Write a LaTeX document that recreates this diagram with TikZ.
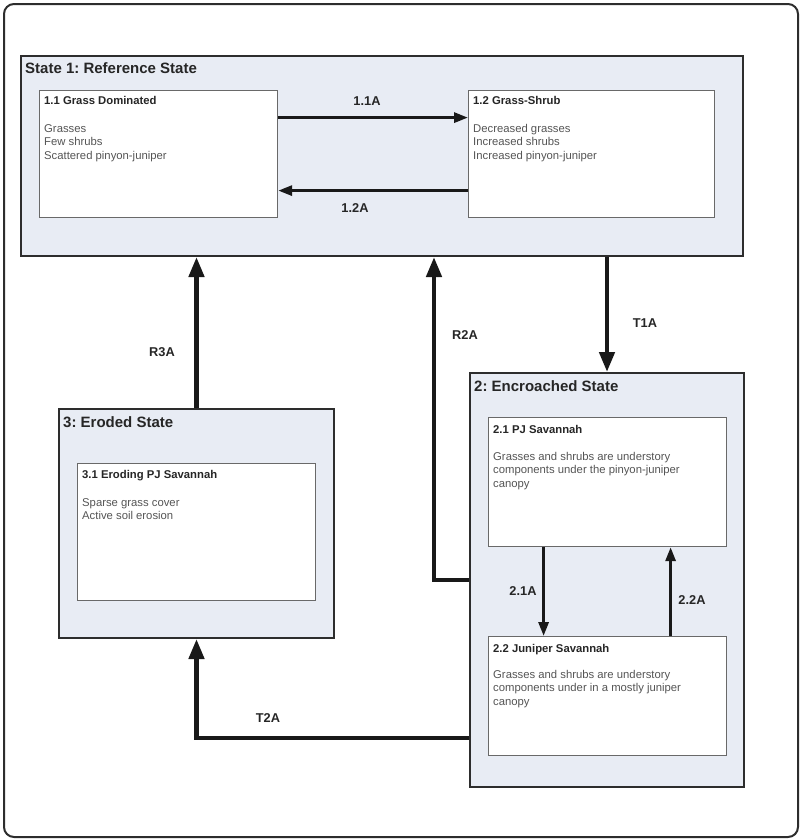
\documentclass[tikz,border=0pt]{standalone}
\usepackage{fontspec}
\setmainfont{Liberation Sans}
\frenchspacing
\usetikzlibrary{positioning,calc,arrows.meta}
\definecolor{statefill}{RGB}{232,236,244}
\definecolor{frameline}{RGB}{45,45,45}
\definecolor{boxline}{RGB}{105,105,105}
\definecolor{bodytext}{RGB}{85,85,85}
\tikzset{>={Triangle[length=20pt,width=15pt]},
  statebox/.style={draw=frameline,fill=statefill,line width=2pt,inner sep=0,anchor=north west},
  phasebox/.style={draw=boxline,fill=white,line width=1.2pt,inner sep=0,anchor=north west},
  statetitle/.style={font=\fontsize{15}{18}\selectfont\bfseries,text=black!85,inner sep=0,anchor=base west},
  phasetitle/.style={font=\fontsize{11.3}{13}\selectfont\bfseries,text=black!85,inner sep=0,anchor=base west},
  phasebody/.style={font=\fontsize{11.3}{13.5}\selectfont,text=bodytext,inner sep=0,anchor=north west,align=left},
  pathlabel/.style={font=\fontsize{12.8}{15}\selectfont\bfseries,text=black!85,inner sep=0},
  bigarrow/.style={->,line width=4.5pt,draw=black!90},
  smallarrow/.style={-{Triangle[length=14pt,width=10pt]},line width=3pt,draw=black!90}
}

\begin{document}
\begin{tikzpicture}[x=1pt,y=-1pt]
\useasboundingbox (0,0) rectangle (800,839);
\node[draw=frameline,line width=2pt,rounded corners=10pt,minimum width=794pt,minimum height=833pt,inner sep=0,anchor=north west] (frame) at (3,3) {};

% states
\node[statebox,minimum width=722pt,minimum height=200pt] (s1) at (20,55) {};
\node[statebox,minimum width=274pt,minimum height=414pt] (s2) at (469,372) {};
\node[statebox,minimum width=275pt,minimum height=229pt] (s3) at (58,408) {};
\node[statetitle] (s1title) at (25,73) {State 1: Reference State};
\node[statetitle] (s2title) at (474,391) {2: Encroached State};
\node[statetitle] (s3title) at (63,427) {3: Eroded State};

% community phases
\node[phasebox,minimum width=238pt,minimum height=127pt] (p11) at (39,90) {};
\node[phasebox,minimum width=246pt,minimum height=127pt] (p12) at (468,90) {};
\node[phasebox,minimum width=238pt,minimum height=129pt] (p21) at (488,417) {};
\node[phasebox,minimum width=238pt,minimum height=119pt] (p22) at (488,636) {};
\node[phasebox,minimum width=238pt,minimum height=137pt] (p31) at (77,463) {};

\node[phasetitle] (p11title) at (44,104) {1.1 Grass Dominated};
\node[phasebody] (p11body) at (44,124) {Grasses\\Few shrubs\\Scattered pinyon-juniper};
\node[phasetitle] (p12title) at (473,104) {1.2 Grass-Shrub};
\node[phasebody] (p12body) at (473,124) {Decreased grasses\\Increased shrubs\\Increased pinyon-juniper};
\node[phasetitle] (p21title) at (493,433) {2.1 PJ Savannah};
\node[phasebody] (p21body) at (493,452) {Grasses and shrubs are understory\\components under the pinyon-juniper\\canopy};
\node[phasetitle] (p22title) at (493,652) {2.2 Juniper Savannah};
\node[phasebody] (p22body) at (493,670) {Grasses and shrubs are understory\\components under in a mostly juniper\\canopy};
\node[phasetitle] (p31title) at (82,478) {3.1 Eroding PJ Savannah};
\node[phasebody] (p31body) at (82,498) {Sparse grass cover\\Active soil erosion};

% pathways
\draw[smallarrow] ([yshift=36.5pt]p11.east) -- ([yshift=36.5pt]p12.west);
\draw[smallarrow] ([yshift=-36.5pt]p12.west) -- ([yshift=-36.5pt]p11.east);
\draw[smallarrow] ([xshift=-64pt]p21.south) -- ([xshift=-64pt]p22.north);
\draw[smallarrow] ([xshift=63pt]p22.north) -- ([xshift=63pt]p21.south);
\node[pathlabel] (l11) at (367,101) {1.1A};
\node[pathlabel] (l12) at (355,208) {1.2A};
\node[pathlabel] (l21) at (523,591) {2.1A};
\node[pathlabel] (l22) at (692,600) {2.2A};

% transitions and restorations
\draw[bigarrow] (s2.north |- s1.south) -- (s2.north);
\draw[bigarrow] (s3.north) -- (s3.north |- s1.south);
\draw[bigarrow] (s2.west) -| ([xshift=52pt]s1.south);
\draw[bigarrow] ([yshift=-158pt]s2.west) -| (s3.south);
\node[pathlabel] (t1a) at (645,323) {T1A};
\node[pathlabel] (r2a) at (465,335) {R2A};
\node[pathlabel] (r3a) at (162,352) {R3A};
\node[pathlabel] (t2a) at (268,718) {T2A};
\end{tikzpicture}
\end{document}
